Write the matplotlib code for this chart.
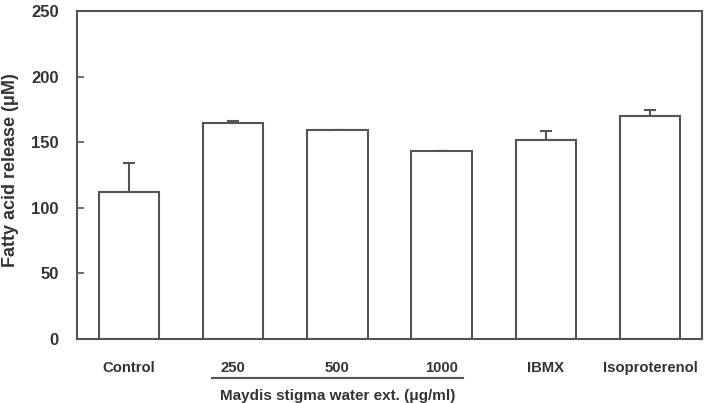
import numpy as np
import matplotlib.pyplot as plt

plt.rcParams['font.family'] = ['Liberation Sans', 'DejaVu Sans']
plt.rcParams['font.weight'] = 'bold'

# data
categories = ['Control', '250', '500', '1000', 'IBMX', 'Isoproterenol']
values = [112, 165, 159, 143, 152, 170]
errors = [22, 1, 0.5, 0.5, 6.5, 4.5]
yticks = [0, 50, 100, 150, 200, 250]

line_col = '#555555'
text_col = '#333333'

fig = plt.figure(figsize=(7.07, 4.03), dpi=100)
ax = fig.add_axes([77/707, 1 - 339/403, 625/707, 328/403])

x = np.arange(len(categories))
ax.bar(x, values, width=0.58, color='white', edgecolor=line_col, linewidth=1.5, zorder=2)
ax.errorbar(x, values, yerr=[np.zeros(len(errors)), errors], fmt='none',
            ecolor=line_col, elinewidth=1.5, capsize=4, capthick=1.5, zorder=1)

ax.set_xlim(-0.5, 5.5)
ax.set_ylim(0, 250)
ax.set_yticks(yticks)
ax.set_xticks(x)
ax.set_xticklabels(categories, fontsize=10.7, color=text_col, fontweight='bold')
ax.tick_params(axis='x', length=0, pad=16)
ax.tick_params(axis='y', direction='in', length=5, width=1.2, color=line_col,
               labelsize=12, labelcolor=text_col, pad=13)
for lab in ax.get_yticklabels():
    lab.set_fontweight('bold')

for s in ax.spines.values():
    s.set_color(line_col)
    s.set_linewidth(1.5)

fig.text(11/707, 1 - 170/403, 'Fatty acid release (\u03bcM)', rotation=90,
         ha='center', va='center', fontsize=13, fontweight='bold', color=text_col)

# bracket line under the extract concentrations
fig.add_artist(plt.Line2D([212/707, 463/707], [1 - 378/403, 1 - 378/403],
                          color=line_col, linewidth=1.5))
fig.text(338/707, 1 - 396/403, 'Maydis stigma water ext. (\u03bcg/ml)', ha='center',
         va='center', fontsize=11, fontweight='bold', color=text_col)

plt.savefig('out.png', dpi=100)
